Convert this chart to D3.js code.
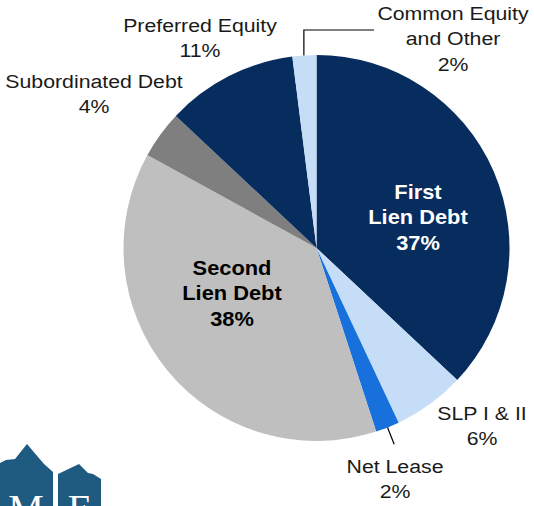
<!DOCTYPE html>
<html>
<head>
<meta charset="utf-8">
<title>Portfolio Composition</title>
<script src="https://d3js.org/d3.v7.min.js"></script>
<style>
  body { margin: 0; background: #fff; }
  svg { display: block; }
</style>
</head>
<body>
<svg width="534" height="506" font-family="Liberation Sans, Arial, sans-serif"></svg>
<script>
var categories = ["First Lien Debt", "SLP I & II", "Net Lease", "Second Lien Debt",
                  "Subordinated Debt", "Preferred Equity", "Common Equity and Other"];
var shares = [37, 6, 2, 38, 4, 11, 2];
var colors = ["#062d5e", "#c5ddf7", "#1870dd", "#bfbfbf", "#7f7f7f", "#062d5e", "#c5ddf7"];

// label lines per slice (last line is the % value)
var labelLines = [
  ["First", "Lien Debt"],
  ["SLP I & II"],
  ["Net Lease"],
  ["Second", "Lien Debt"],
  ["Subordinated Debt"],
  ["Preferred Equity"],
  ["Common Equity", "and Other"]
];

// where each label sits: x centre, first baseline
var labelPos = [
  {x: 418, y: 199, inside: true, fill: "#fff"},
  {x: 482, y: 420},
  {x: 395, y: 473},
  {x: 232, y: 275, inside: true, fill: "#000"},
  {x: 94, y: 88},
  {x: 200, y: 32},
  {x: 453, y: 20}
];

var svg = d3.select("svg"),
    cx = 316.5, cy = 248, radius = 193;

var g = svg.append("g").attr("transform", "translate(" + cx + "," + cy + ")");

var pie = d3.pie().sort(null).value(function(d) { return d; });
var arcs = pie(shares);
var arc = d3.arc().innerRadius(0).outerRadius(radius);

g.selectAll("path")
  .data(arcs)
  .enter().append("path")
    .attr("d", arc)
    .attr("fill", function(d, i) { return colors[i]; });

// leader lines
var lineGen = d3.line();
var onRim = function(i, r) {
  var a = (arcs[i].startAngle + arcs[i].endAngle) / 2;
  return [cx + Math.sin(a) * r, cy - Math.cos(a) * r];
};
var cePt = onRim(6, radius);
svg.append("path")
  .attr("d", lineGen([[cePt[0] - 0.5, cePt[1]], [cePt[0] - 0.5, 30], [374, 30]]))
  .attr("fill", "none").attr("stroke", "#000").attr("stroke-width", 1.2);
var nlA = onRim(2, radius), nlB = onRim(2, radius + 18);
svg.append("path")
  .attr("d", lineGen([nlA, nlB]))
  .attr("fill", "none").attr("stroke", "#000").attr("stroke-width", 1.2);

// labels
var lineH = 25.5;
var labels = svg.selectAll("g.label")
  .data(categories)
  .enter().append("g")
    .attr("class", "label")
    .attr("transform", function(d, i) { return "translate(" + labelPos[i].x + "," + labelPos[i].y + ") scale(1.12,1)"; });

labels.each(function(d, i) {
  var p = labelPos[i];
  var lines = labelLines[i].concat([shares[i] + "%"]);
  var t = d3.select(this).append("text")
    .attr("text-anchor", "middle")
    .attr("font-size", p.inside ? 19.5 : 19)
    .attr("font-weight", p.inside ? "bold" : "normal")
    .attr("fill", p.fill || "#1a1a1a");
  lines.forEach(function(s, k) {
    t.append("tspan").attr("x", 0).attr("y", k * lineH).text(s);
  });
});

// logo (bottom-left corner)
var logo = svg.append("g").attr("fill", "#1f5a80");
logo.append("path").attr("d", "M0,463 L6,460 L15,459 L27,444 L44,464 L53,472 L53,506 L0,506 Z");
logo.append("path").attr("d", "M58,474 L79,464 L88,473 L93,474 L101,479 L101,506 L58,506 Z");
logo.append("text").attr("x", 26).attr("y", 522).attr("text-anchor", "middle")
  .attr("font-family", "Liberation Serif, serif").attr("font-size", 40).attr("fill", "#fff").text("M");
logo.append("text").attr("x", 80).attr("y", 522).attr("text-anchor", "middle")
  .attr("font-family", "Liberation Serif, serif").attr("font-size", 40).attr("fill", "#fff").text("E");
</script>
</body>
</html>
